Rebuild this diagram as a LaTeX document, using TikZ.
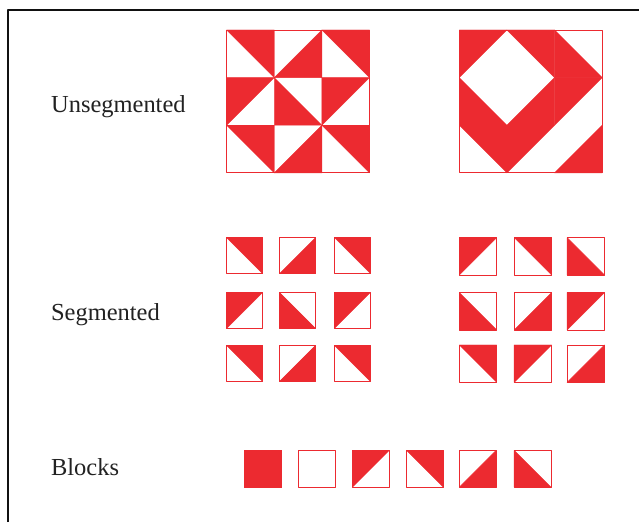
\documentclass[tikz,border=0pt]{standalone}
\usepackage{fontspec}
\setmainfont{Liberation Serif}
\usetikzlibrary{positioning}
\definecolor{quiltRed}{HTML}{EC2A30}
\definecolor{quiltInk}{HTML}{222222}
\definecolor{quiltFrame}{HTML}{111111}

\begin{document}
\begin{tikzpicture}[x=1pt,y=-1pt,line cap=round,line join=round]
\path[fill=white] (0,0) rectangle (640,523);
\draw[quiltFrame,line width=2pt,line cap=butt] (8,523) -- (8,10) -- (640,10);
\tikzset{redpart/.style={fill=quiltRed,draw=quiltRed,line width=0.4pt},tilebox/.style={draw=quiltRed,line width=0.8pt},rowlabel/.style={anchor=base west,text=quiltInk,font=\fontsize{24.5}{29}\selectfont,inner sep=0pt},
 cellUR/.pic={\path[redpart] (0,0) -- (1,0) -- (1,1) -- cycle;},cellLL/.pic={\path[redpart] (0,0) -- (0,1) -- (1,1) -- cycle;},
 cellUL/.pic={\path[redpart] (0,0) -- (1,0) -- (0,1) -- cycle;},cellLR/.pic={\path[redpart] (1,0) -- (1,1) -- (0,1) -- cycle;},
 tileUR/.pic={\path[redpart] (0,0) -- (1,0) -- (1,1) -- cycle; \path[tilebox] (0,0) rectangle (1,1);},
 tileLL/.pic={\path[redpart] (0,0) -- (0,1) -- (1,1) -- cycle; \path[tilebox] (0,0) rectangle (1,1);},
 tileUL/.pic={\path[redpart] (0,0) -- (1,0) -- (0,1) -- cycle; \path[tilebox] (0,0) rectangle (1,1);},
 tileLR/.pic={\path[redpart] (1,0) -- (1,1) -- (0,1) -- cycle; \path[tilebox] (0,0) rectangle (1,1);}}
% row labels
\node[rowlabel] (unseg) at (51,113) {Unsegmented};
\node[rowlabel] (seg) at (51,321) {Segmented};
\node[rowlabel] (blocks) at (51,476) {Blocks};
% unsegmented, left square
\pic[scale=47.7] at (227,30) {cellUR}; \pic[scale=47.7] at (274.7,30) {cellLR}; \pic[scale=47.7] at (322.4,30) {cellUR};
\pic[scale=47.7] at (227,77.7) {cellUL}; \pic[scale=47.7] at (274.7,77.7) {cellLL}; \pic[scale=47.7] at (322.4,77.7) {cellUL};
\pic[scale=47.7] at (227,125.4) {cellUR}; \pic[scale=47.7] at (274.7,125.4) {cellLR}; \pic[scale=47.7] at (322.4,125.4) {cellUR};
\path[tilebox] (227,30) rectangle (370.1,173.1);
% unsegmented, right square
\pic[scale=47.7] at (460,30) {cellUL}; \pic[scale=47.7] at (507.7,30) {cellUR}; \pic[scale=47.7] at (555.4,30) {cellLL};
\pic[scale=47.7] at (460,77.7) {cellLL}; \pic[scale=47.7] at (507.7,77.7) {cellLR}; \pic[scale=47.7] at (555.4,77.7) {cellUL};
\pic[scale=47.7] at (460,125.4) {cellUR}; \pic[scale=47.7] at (507.7,125.4) {cellUL}; \pic[scale=47.7] at (555.4,125.4) {cellLR};
\path[tilebox] (460,30) rectangle (603.1,173.1);
% segmented, left grid
\pic[scale=36] at (227,238) {tileUR}; \pic[scale=36] at (280,238) {tileLR}; \pic[scale=36] at (335,238) {tileUR};
\pic[scale=36] at (227,293) {tileUL}; \pic[scale=36] at (280,293) {tileLL}; \pic[scale=36] at (335,293) {tileUL};
\pic[scale=36] at (227,346) {tileUR}; \pic[scale=36] at (280,346) {tileLR}; \pic[scale=36] at (335,346) {tileUR};
% segmented, right grid
\pic[scale=37.5] at (460,238) {tileUL}; \pic[scale=37.5] at (515,238) {tileUR}; \pic[scale=37.5] at (568,238) {tileLL};
\pic[scale=37.5] at (460,293) {tileLL}; \pic[scale=37.5] at (515,293) {tileLR}; \pic[scale=37.5] at (568,293) {tileUL};
\pic[scale=37.5] at (460,345.5) {tileUR}; \pic[scale=37.5] at (515,345.5) {tileUL}; \pic[scale=37.5] at (568,345.5) {tileLR};
% blocks
\path[redpart] (245,451) rectangle ++(37,37); \path[tilebox] (245,451) rectangle ++(37,37);
\path[tilebox] (299,451) rectangle ++(37,37);
\pic[scale=37] at (353,451) {tileUL}; \pic[scale=37] at (407,451) {tileUR};
\pic[scale=37] at (460,451) {tileLR}; \pic[scale=37] at (515,451) {tileLL};
\end{tikzpicture}
\end{document}
